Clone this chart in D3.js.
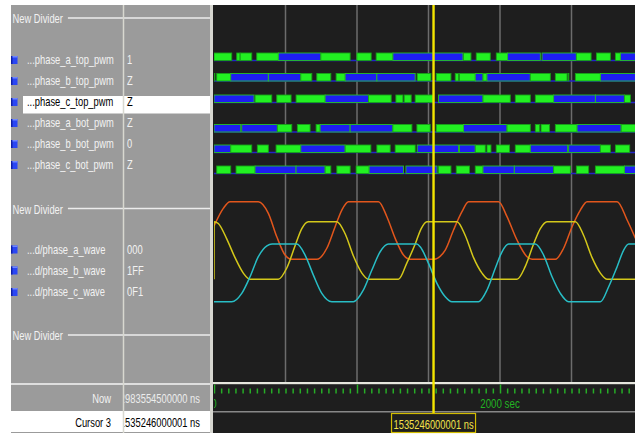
<!DOCTYPE html>
<html><head><meta charset="utf-8">
<script src="https://cdn.jsdelivr.net/npm/d3@7"></script>
<style>
html,body{margin:0;padding:0;background:#fff;}
svg{display:block;}
text{font-family:"Liberation Sans Narrow","Arial Narrow","Liberation Sans",sans-serif;font-size:12px;}
</style></head><body>
<svg id="c" width="635" height="435"></svg>
<script>
// ---- signal list ----
const dividerLabel = "New Divider";
const pwmNames = ["...phase_a_top_pwm","...phase_b_top_pwm","...phase_c_top_pwm",
                  "...phase_a_bot_pwm","...phase_b_bot_pwm","...phase_c_bot_pwm"];
const pwmValues = ["1","Z","Z","Z","0","Z"];
const selectedSignal = "...phase_c_top_pwm";

// PWM activity: [start s, end s, "g" = driven pulse, "b" = high-Z stretch]
const phaseATopPwm = [[0,124,"g"],[159,182,"g"],[183,264,"g"],[299,450,"g"],[450,747,"b"],[747,952,"g"],
  [999,1099,"g"],[1134,1251,"g"],[1251,1741,"b"],[1745,1797,"g"],[1834,1932,"g"],[1974,2053,"g"],
  [2053,2282,"b"],[2294,2534,"b"],[2534,2637,"g"],[2674,2772,"g"],[2807,2842,"g"],[2842,2947,"b"]];
const phaseBTopPwm = [[0,6,"g"],[19,117,"g"],[117,380,"b"],[380,607,"b"],[607,684,"g"],[719,817,"g"],
  [854,917,"g"],[917,1139,"b"],[1139,1407,"b"],[1421,1517,"g"],[1554,1657,"g"],[1687,1710,"g"],
  [1717,1827,"g"],[1827,1881,"b"],[1881,1909,"g"],[1909,2212,"b"],[2212,2352,"g"],[2387,2469,"g"],
  [2476,2481,"g"],[2527,2702,"g"],[2702,2947,"b"]];
const phaseCTopPwm = [[0,280,"b"],[287,404,"g"],[439,539,"g"],[574,777,"g"],[777,1080,"b"],[1080,1239,"g"],
  [1272,1321,"g"],[1330,1379,"g"],[1407,1533,"g"],[1570,1881,"b"],[1881,2072,"g"],[2107,2212,"g"],
  [2247,2375,"g"],[2375,2667,"b"],[2667,2870,"b"],[2870,2912,"g"]];
const phaseABotPwm = [[0,187,"b"],[194,443,"b"],[443,544,"g"],[583,672,"g"],[714,742,"g"],[742,952,"b"],
  [952,1251,"b"],[1251,1384,"g"],[1419,1512,"g"],[1554,1745,"g"],[1745,2049,"b"],[2049,2212,"g"],
  [2247,2277,"g"],[2287,2347,"g"],[2387,2539,"g"],[2539,2847,"b"],[2847,2947,"g"]];
const phaseBBotPwm = [[0,117,"b"],[117,264,"g"],[303,380,"g"],[434,607,"g"],[607,917,"b"],[917,1097,"g"],
  [1139,1232,"g"],[1267,1407,"g"],[1421,1710,"b"],[1717,1827,"b"],[1827,1897,"g"],[1909,1937,"g"],
  [1974,2067,"g"],[2107,2212,"g"],[2212,2473,"b"],[2480,2702,"b"],[2702,2772,"g"],[2807,2907,"g"]];
const phaseCBotPwm = [[19,117,"g"],[154,287,"g"],[287,574,"b"],[574,777,"b"],[777,817,"g"],[859,952,"g"],
  [994,1085,"g"],[1085,1325,"b"],[1342,1560,"b"],[1570,1657,"g"],[1694,1787,"g"],[1827,1881,"g"],
  [1881,2100,"b"],[2100,2375,"b"],[2375,2492,"g"],[2534,2620,"g"],[2667,2870,"g"],[2870,2947,"b"]];

// ---- analog phase waves (9-bit, 0..511): [time s, value] ----
const waveNames = ["...d/phase_a_wave","...d/phase_b_wave","...d/phase_c_wave"];
const waveValues = ["000","1FF","0F1"];
const phaseAWave = [[0,295],[65,452],[112,511],[310,511],[380,408],[439,200],[497,38],[544,0],[719,0],
  [789,98],[847,289],[894,437],[940,511],[1150,511],[1209,378],[1267,186],[1325,38],[1372,0],[1535,0],
  [1617,82],[1675,260],[1734,422],[1780,511],[1990,511],[2049,378],[2119,171],[2189,23],[2224,0],
  [2387,0],[2445,98],[2504,289],[2562,437],[2609,511],[2819,511],[2889,349],[2947,186]];
const phaseBWave = [[0,0],[1,511],[30,495],[89,359],[147,192],[205,55],[252,0],[450,0],[509,100],
  [567,297],[614,450],[660,511],[859,511],[917,404],[975,206],[1034,55],[1080,0],[1290,0],[1349,146],
  [1407,313],[1449,450],[1489,511],[1699,511],[1757,389],[1815,192],[1874,55],[1920,0],[2119,0],
  [2177,115],[2235,313],[2282,450],[2329,511],[2527,511],[2585,389],[2644,192],[2702,55],[2749,0],[2947,0]];
const phaseCWave = [[0,0],[124,0],[194,74],[252,221],[310,399],[370,495],[406,511],[579,511],[637,414],
  [695,236],[754,74],[824,0],[975,0],[1045,104],[1104,281],[1162,443],[1220,511],[1419,511],[1442,487],
  [1500,340],[1559,163],[1617,44],[1664,0],[1850,0],[1909,104],[1967,296],[2014,443],[2060,511],
  [2247,511],[2305,414],[2364,221],[2422,74],[2480,0],[2702,0],[2760,133],[2819,310],[2865,458],
  [2900,511],[2947,511]];

// ---- time axis / cursors ----
const gridTimes = [500,1000,1500,2000,2500];
const minorTickStep = 50;
const majorTicks = [0,1000,2000];
const axisLabels = [[0,"0"],[2000,"2000 sec"]];
const nowName = "Now", nowValue = "2983554500000 ns";
const cursorName = "Cursor 3", cursorTime = 1535.246000001, cursorValue = "1535246000001 ns";
const cursorBoxLabel = "1535246000001 ns";

const pwmRows = [phaseATopPwm, phaseBTopPwm, phaseCTopPwm, phaseABotPwm, phaseBBotPwm, phaseCBotPwm];
const waves = [phaseAWave, phaseBWave, phaseCWave];

// ---- layout ----
const svg = d3.select("#c");
const WX0 = 213, WX1 = 635, TOP = 5, WAVE_BOTTOM = 382, BOTTOM = 433;
const NARROW = 0.78;   // condensed look of the UI font
const x = d3.scaleLinear().domain([0, 2000]).range([214, 500]);

// narrow text helper: text drawn at (px,py) and squeezed horizontally
function label(parent, px, py, str, fill, anchor, size){
  const t = parent.append("text")
    .attr("transform", `translate(${px},${py}) scale(${NARROW},1)`)
    .attr("fill", fill).text(str);
  if (anchor) t.attr("text-anchor", anchor);
  if (size) t.style("font-size", size + "px");
  return t;
}

const defs = svg.append("defs");
defs.append("clipPath").attr("id","waveClip").append("rect")
  .attr("x",WX0+1).attr("y",TOP).attr("width",WX1-WX0).attr("height",WAVE_BOTTOM-TOP);
defs.append("clipPath").attr("id","axisClip").append("rect")
  .attr("x",WX0+1).attr("y",384).attr("width",WX1-WX0).attr("height",27);
defs.append("clipPath").attr("id","valClip").append("rect")
  .attr("x",124.5).attr("y",TOP).attr("width",85).attr("height",BOTTOM-TOP);

// backgrounds
svg.append("rect").attr("x",11).attr("y",TOP).attr("width",199).attr("height",BOTTOM-TOP).attr("fill","#9b9b9b");
svg.append("rect").attr("x",WX0).attr("y",TOP).attr("width",WX1-WX0).attr("height",BOTTOM-TOP).attr("fill","#1e1e1e");
svg.append("rect").attr("x",210).attr("y",TOP).attr("width",3).attr("height",BOTTOM-TOP).attr("fill","#d6d6d0");

// ---- name / value panel ----
const panel = svg.append("g");
const light = "#f2f2f2";

function divider(baseline, lineY){
  const t = label(panel, 12.5, baseline, dividerLabel, light);
  const w = t.node().getComputedTextLength() * NARROW;
  panel.append("line").attr("x1",12.5+w+5).attr("x2",210).attr("y1",lineY).attr("y2",lineY)
    .attr("stroke","#ececec").attr("stroke-width",1.3);
}
divider(23, 18);
divider(213.5, 208.5);
divider(339.5, 335);

function icon(y){
  panel.append("rect").attr("x",11).attr("y",y).attr("width",6.5).attr("height",8).attr("fill","#2a46f4");
  panel.append("rect").attr("x",11).attr("y",y).attr("width",1.5).attr("height",8).attr("fill","#1020a8");
  panel.append("rect").attr("x",12.5).attr("y",y).attr("width",5).attr("height",1.5).attr("fill","#6f86ff");
}

const pwmBase = [64, 85, 106, 127, 148, 169];
pwmNames.forEach((n,i)=>{
  const sel = n === selectedSignal;
  if (sel) panel.append("rect").attr("x",23).attr("y",pwmBase[i]-10).attr("width",187).attr("height",17.5).attr("fill","#ffffff");
  icon(pwmBase[i]-8);
  label(panel, 27, pwmBase[i], n, sel ? "#000" : light);
  label(panel, 127, pwmBase[i], pwmValues[i], sel ? "#000" : light);
});

const waveBase = [253.5, 274.5, 296];
waveNames.forEach((n,i)=>{
  icon(waveBase[i]-8);
  label(panel, 27, waveBase[i], n, light);
  label(panel, 127, waveBase[i], waveValues[i], light);
});

// Now / cursor rows
panel.append("rect").attr("x",11).attr("y",383).attr("width",199).attr("height",2).attr("fill","#dedede");
panel.append("rect").attr("x",11).attr("y",411).attr("width",199).attr("height",21).attr("fill","#ffffff");
label(panel, 111, 403, nowName, light, "end");
label(panel, 111, 427, cursorName, "#000", "end");
const vals = panel.append("g").attr("clip-path","url(#valClip)");
label(vals, 200, 403, nowValue, "#ececec", "end");
label(vals, 200, 427, cursorValue, "#000", "end");

// column separator
panel.append("line").attr("x1",123.5).attr("x2",123.5).attr("y1",TOP).attr("y2",BOTTOM)
  .attr("stroke","#d8d8d0").attr("stroke-width",1.5);

// ---- wave window ----
const wv = svg.append("g").attr("clip-path","url(#waveClip)");
wv.selectAll("line.grid").data(gridTimes).join("line").attr("class","grid")
  .attr("x1",d=>x(d)).attr("x2",d=>x(d)).attr("y1",TOP).attr("y2",WAVE_BOTTOM)
  .attr("stroke","#6c6c6c").attr("stroke-width",1.5);

// PWM rows
const barTop = [53, 73.5, 95, 124.5, 145, 166];
const BAR_H = 7.5;
pwmRows.forEach((segs,i)=>{
  const g = wv.append("g");
  g.append("line").attr("x1",WX0).attr("x2",WX1)
    .attr("y1",barTop[i]+BAR_H).attr("y2",barTop[i]+BAR_H)
    .attr("stroke","#2424c8").attr("stroke-width",1.3);
  g.selectAll("rect").data(segs).join("rect")
    .attr("x",d=>x(d[0])).attr("width",d=>Math.max(0.8,x(d[1])-x(d[0])))
    .attr("y",barTop[i]).attr("height",BAR_H)
    .attr("fill",d=>d[2]==="g"?"#22f022":"#1e1ef2")
    .attr("stroke",d=>d[2]==="g"?"#18a018":"#26c026").attr("stroke-width",0.9);
});

// analog waves
const waveBottom = [259.3, 279.3, 301.7];
const WAVE_H = 57.6;
const waveColors = ["#e2561c","#d4c81a","#28bec6"];
waves.forEach((w,i)=>{
  const y = d3.scaleLinear().domain([0,511]).range([waveBottom[i], waveBottom[i]-WAVE_H]);
  wv.append("path").datum(w)
    .attr("d", d3.line().x(d=>x(d[0])).y(d=>y(d[1])).curve(d3.curveMonotoneX))
    .attr("fill","none").attr("stroke",waveColors[i]).attr("stroke-width",1.5);
});

// ---- time ruler ----
svg.append("rect").attr("x",WX0).attr("y",382).attr("width",WX1-WX0).attr("height",2.2).attr("fill","#e6e6de");
svg.append("rect").attr("x",WX0).attr("y",411).attr("width",WX1-WX0).attr("height",1.5).attr("fill","#888888");

const ruler = svg.append("g").attr("clip-path","url(#axisClip)");
const minorTicks = d3.range(0, 2950, minorTickStep).filter(t=>!majorTicks.includes(t));
const minorAxis = d3.axisTop(x).tickValues(minorTicks).tickSize(5).tickFormat("");
const majorAxis = d3.axisTop(x).tickValues(majorTicks).tickSize(9).tickFormat("");
[minorAxis, majorAxis].forEach(ax=>{
  const g = ruler.append("g").attr("transform","translate(0,393.5)").call(ax);
  g.select(".domain").remove();
  g.selectAll(".tick line").attr("stroke","#26ac26").attr("stroke-width",1.5);
});
axisLabels.forEach(d=>{
  label(ruler, x(d[0]), 408, d[1], "#22b422", "middle", 12.5);
});

// ---- cursor ----
const cx = x(cursorTime);
svg.append("line").attr("x1",cx).attr("x2",cx).attr("y1",TOP).attr("y2",413)
  .attr("stroke","#f4e600").attr("stroke-width",2.4);
const bw = 84;
svg.append("rect").attr("x",cx-bw/2).attr("y",413.5).attr("width",bw).attr("height",19)
  .attr("fill","#1e1e1e").attr("stroke","#d2bc00").attr("stroke-width",1.2);
label(svg, cx, 428.5, cursorBoxLabel, "#f2e24a", "middle");
</script>
</body></html>
